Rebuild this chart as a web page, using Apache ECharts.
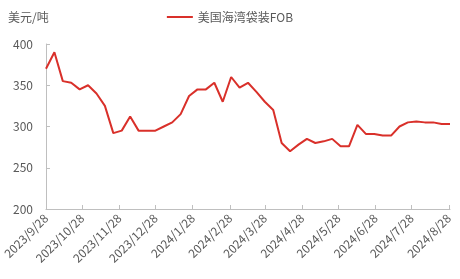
<!DOCTYPE html>
<html><head><meta charset="utf-8">
<script src="https://cdn.jsdelivr.net/npm/echarts@6/dist/echarts.min.js"></script>
<style>html,body{margin:0;padding:0;background:#fff}#c{width:460px;height:279px}</style>
</head><body><div id="c"></div>
<script>
var dates = ['2023-09-28','2023-10-05','2023-10-12','2023-10-19','2023-10-26','2023-11-02','2023-11-09','2023-11-16','2023-11-23','2023-11-30','2023-12-07','2023-12-14','2023-12-21','2023-12-28','2024-01-04','2024-01-11','2024-01-18','2024-01-25','2024-02-01','2024-02-08','2024-02-15','2024-02-22','2024-02-29','2024-03-07','2024-03-14','2024-03-21','2024-03-28','2024-04-04','2024-04-11','2024-04-18','2024-04-25','2024-05-02','2024-05-09','2024-05-16','2024-05-23','2024-05-30','2024-06-06','2024-06-13','2024-06-20','2024-06-27','2024-07-04','2024-07-11','2024-07-18','2024-07-25','2024-08-01','2024-08-08','2024-08-15','2024-08-22','2024-08-29'];
var fobValues = [370,390,355,353,345,350,340,325,292,295,312,295,295,295,300,305,315,337,345,345,353,330,360,347,353,342,330,320,280,270,278,285,280,282,285,276,276,302,291,291,289,289,300,305,306,305,305,303,303];
var tickDates = ['2023-09-28','2023-10-28','2023-11-28','2023-12-28','2024-01-28','2024-02-28','2024-03-28','2024-04-28','2024-05-28','2024-06-28','2024-07-28','2024-08-28'];
var yTicks = [200,250,300,350,400];
var seriesName = '美国海湾袋装FOB';
var unitLabel = '美元/吨';

function ts(s){var p=s.split('-');return new Date(+p[0],+p[1]-1,+p[2]).getTime();}
var tickTs = tickDates.map(ts);
var data = dates.map(function(d,i){return [ts(d), fobValues[i]];});
var grey = '#595959';
var font = '"Noto Sans CJK SC", "Noto Sans", sans-serif';

var chart = echarts.init(document.getElementById('c'));
chart.setOption({
  animation:false,
  textStyle:{fontFamily:font},
  grid:{left:45,right:10,top:44,bottom:70,containLabel:false},
  legend:{top:6,left:'center',itemWidth:26,itemHeight:2,itemGap:4,
    icon:'rect',
    textStyle:{color:grey,fontSize:12,fontFamily:font},
    data:[seriesName]},
  graphic:[{type:'text',left:8,top:11,style:{text:unitLabel,fill:grey,fontSize:12,fontFamily:font}}],
  xAxis:{type:'value',min:ts(dates[0]),max:ts(dates[dates.length-1]),scale:true,
    axisLine:{lineStyle:{color:'#bfbfbf',width:1}},
    axisTick:{show:true,inside:true,length:4,customValues:tickTs,lineStyle:{color:'#bfbfbf'}},
    splitLine:{show:false},
    axisLabel:{customValues:tickTs,rotate:45,color:grey,fontSize:12,margin:7,fontFamily:font,showMaxLabel:true,showMinLabel:true,
      formatter:function(v){var d=new Date(v);return d.getFullYear()+'/'+(d.getMonth()+1)+'/'+d.getDate();}}
  },
  yAxis:{type:'value',min:yTicks[0],max:yTicks[yTicks.length-1],interval:50,
    axisLine:{show:true,lineStyle:{color:'#bfbfbf',width:1}},
    axisTick:{show:true,inside:true,length:4,lineStyle:{color:'#bfbfbf'}},
    splitLine:{show:false},
    axisLabel:{color:grey,fontSize:12,margin:13,fontFamily:font}
  },
  series:[{name:seriesName,type:'line',data:data,symbol:'none',
    lineStyle:{color:'#d9302a',width:2},itemStyle:{color:'#d9302a'}}]
});
</script></body></html>
